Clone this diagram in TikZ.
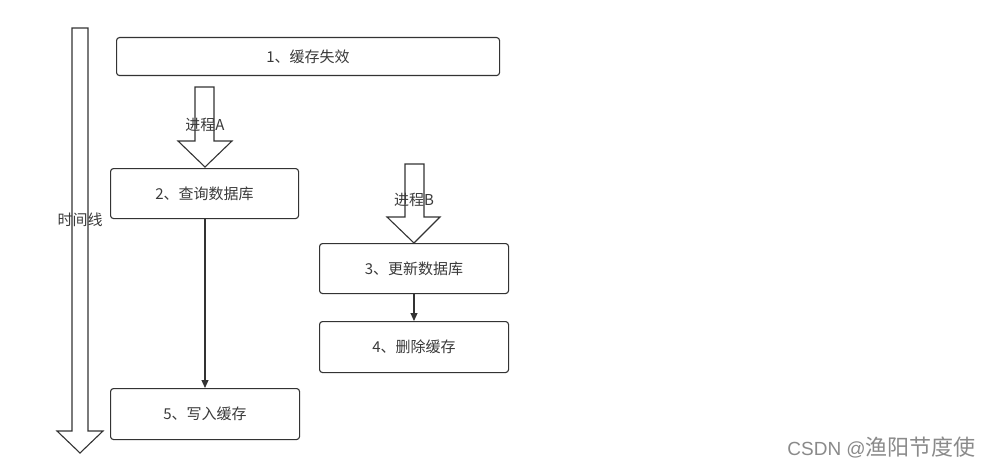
\documentclass[tikz,border=0pt]{standalone}
\usepackage{fontspec}
\setmainfont{Noto Sans CJK SC}
\newfontfamily\wmlatin{Liberation Sans}
\usetikzlibrary{arrows.meta}
\definecolor{linec}{HTML}{333333}
\definecolor{textc}{HTML}{3A3A3A}
\definecolor{wmc}{HTML}{8A8A8A}
\tikzset{
  procbox/.style={draw=linec, line width=1.1pt, rounded corners=3pt, fill=white, anchor=north west, inner sep=0pt, text=textc, font=\fontsize{15}{17}\selectfont},
  blockarrow/.style={draw=linec, line width=1.1pt, fill=white, line join=miter},
  flow/.style={draw=linec, line width=1.1pt, -{Triangle[length=8pt,width=7pt]}},
  lbl/.style={text=textc, font=\fontsize{15}{17}\selectfont, inner sep=0pt}
}
\begin{document}
\begin{tikzpicture}[x=1pt,y=-1pt]
\useasboundingbox (0,0) rectangle (990,468);
\fill[white] (0,0) rectangle (990,468);
% timeline block arrow
\draw[blockarrow] (72,28) -- (88,28) -- (88,431) -- (103,431) -- (80,453) -- (57,431) -- (72,431) -- cycle;
\node[lbl] (tl) at (80,220) {时间线};
% boxes
\node[procbox, minimum width=383pt, minimum height=38pt] (b1) at (116,37) {1、缓存失效};
\node[procbox, minimum width=188pt, minimum height=50pt] (b2) at (110,168) {2、查询数据库};
\node[procbox, minimum width=189pt, minimum height=50pt] (b3) at (319,243) {3、更新数据库};
\node[procbox, minimum width=189pt, minimum height=51pt] (b4) at (319,321) {4、删除缓存};
\node[procbox, minimum width=189pt, minimum height=51pt] (b5) at (110,388) {5、写入缓存};
% process A block arrow
\draw[blockarrow] (195,87) -- (214,87) -- (214,141) -- (232,141) -- (205,167) -- (178,141) -- (195,141) -- cycle;
\node[lbl] (pa) at (205,125) {进程A};
% process B block arrow
\draw[blockarrow] (405,164) -- (424,164) -- (424,217) -- (440,217) -- (414,243) -- (387,217) -- (405,217) -- cycle;
\node[lbl] (pb) at (414,200) {进程B};
% connectors
\draw[flow] (b2.south -| 205,0) -- (b5.north -| 205,0);
\draw[flow] (b3.south -| 414,0) -- (b4.north -| 414,0);
% watermark
\node[text=wmc, font=\fontsize{22}{24}\selectfont, anchor=east, inner sep=0pt] (wm) at (976,448) {{\wmlatin\fontsize{19}{22}\selectfont CSDN @}渔阳节度使};
\end{tikzpicture}
\end{document}
